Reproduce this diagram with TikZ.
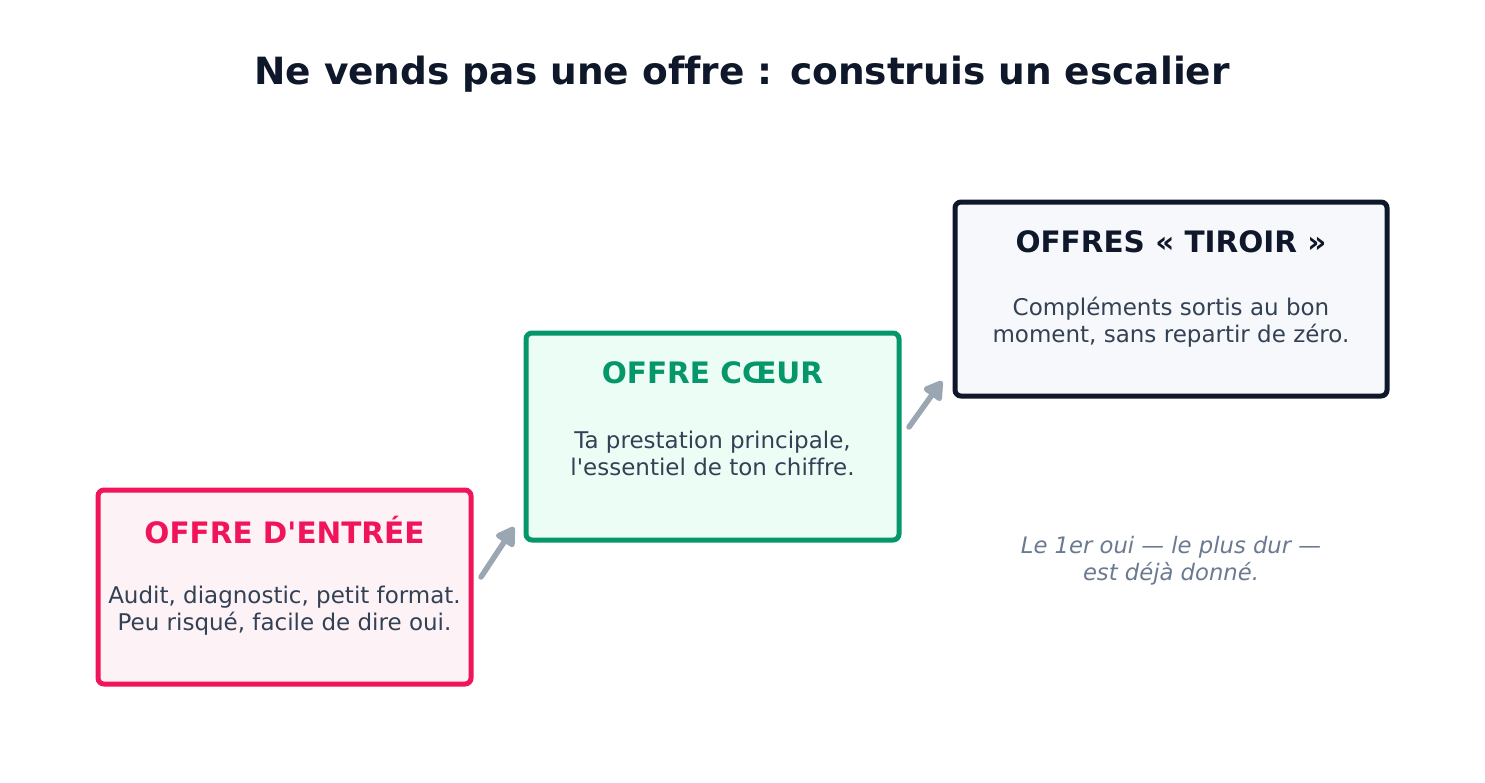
\documentclass[tikz,border=0pt]{standalone}
\usepackage{fontspec}
\setmainfont{DejaVu Sans}[Ligatures={TeXOff,NoCommon}]
\usetikzlibrary{arrows.meta,positioning}
\definecolor{entreeline}{HTML}{F0145A}
\definecolor{entreefill}{HTML}{FDF2F6}
\definecolor{coeurline}{HTML}{059669}
\definecolor{coeurfill}{HTML}{ECFDF5}
\definecolor{tiroirline}{HTML}{0F172A}
\definecolor{tiroirfill}{HTML}{F6F8FB}
\definecolor{bodytext}{HTML}{334155}
\definecolor{notetext}{HTML}{6B7A90}
\definecolor{stepgray}{HTML}{9AA6B2}
\begin{document}
\begin{tikzpicture}[x=1pt, y=-1pt,
    every node/.style = {inner sep=0pt, outer sep=0pt},
    offerbox/.style = {draw, line width=5pt, rounded corners=6pt},
    offertitle/.style = {font=\fontsize{29.5}{34}\selectfont\bfseries},
    offerbody/.style = {align=center, text=bodytext, font=\fontsize{23}{27}\selectfont},
    stairarrow/.style = {stepgray, line width=5.5pt, line cap=round,
      -{Triangle[length=21pt, width=24pt, round]}}]
    \useasboundingbox (0,0) rectangle (1485,782);
    \node[text=tiroirline, font=\fontsize{37.5}{44}\selectfont\bfseries] (title) at (742,74)
      {Ne vends pas une offre : construis un escalier};
    % the three steps
    \node[offerbox, draw=entreeline, fill=entreefill, minimum width=373pt, minimum height=194pt] (entree) at (284.5,587) {};
    \node[offerbox, draw=coeurline, fill=coeurfill, minimum width=373pt, minimum height=207pt] (coeur) at (712.5,436.5) {};
    \node[offerbox, draw=tiroirline, fill=tiroirfill, minimum width=432pt, minimum height=194pt] (tiroir) at (1171,299) {};
    \node[offertitle, text=entreeline] (entree-title) at ([yshift=-40pt]entree.north) {OFFRE D'ENTRÉE};
    \node[offerbody] (entree-body) at ([yshift=-120.5pt]entree.north) {Audit, diagnostic, petit format.\\Peu risqué, facile de dire oui.};
    \node[offertitle, text=coeurline] (coeur-title) at ([yshift=-40pt]coeur.north) {OFFRE CŒUR};
    \node[offerbody] (coeur-body) at ([yshift=-120.5pt]coeur.north) {Ta prestation principale,\\l'essentiel de ton chiffre.};
    \node[offertitle, text=tiroirline] (tiroir-title) at ([yshift=-40pt]tiroir.north) {OFFRES « TIROIR »};
    \node[offerbody] (tiroir-body) at ([yshift=-120.5pt]tiroir.north) {Compléments sortis au bon\\moment, sans repartir de zéro.};
    \node[align=center, text=notetext, font=\fontsize{22.7}{27}\selectfont\itshape] (note) at (1171,560.5)
      {Le 1er oui — le plus dur —\\est déjà donné.};
    % arrows between steps
    \draw[stairarrow] ([shift={(10pt,10pt)}]entree.east) -- ([shift={(-12pt,13pt)}]coeur.south west);
    \draw[stairarrow] ([shift={(10pt,9.5pt)}]coeur.east) -- ([shift={(-13pt,15pt)}]tiroir.south west);
\end{tikzpicture}
\end{document}
